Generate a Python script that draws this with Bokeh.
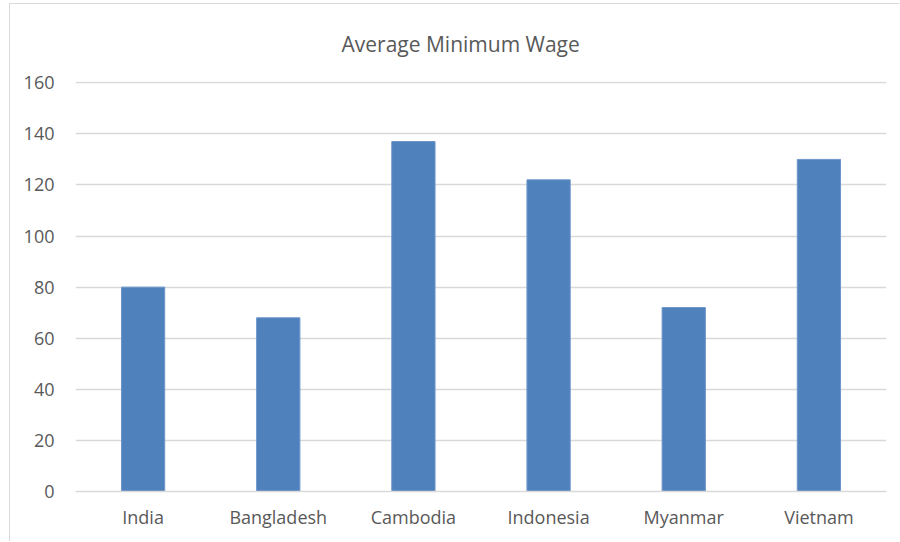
from bokeh.plotting import figure
from bokeh.models import Range1d, FixedTicker
from bokeh.embed import file_html
from bokeh.resources import INLINE

countries = ["India", "Bangladesh", "Cambodia", "Indonesia", "Myanmar", "Vietnam"]
wages = [80, 68, 137, 122, 72, 130]
y_ticks = [0, 20, 40, 60, 80, 100, 120, 140, 160]

FONT = "Open Sans"
TXT = "#595959"
GRID = "#d9d9d9"

p = figure(x_range=countries, y_range=Range1d(0, 160.5), width=890, height=538,
           output_backend="svg", toolbar_location=None,
           min_border_left=65, min_border_right=14, min_border_top=77, min_border_bottom=51)

p.vbar(x=countries, top=wages, width=0.32, fill_color="#4f81bd", line_color="#6c96c9", line_width=1)

p.title.text = "Average Minimum Wage"
p.title.align = "left"
p.title.offset = 266
p.title.vertical_align = "top"
p.title.text_font = FONT
p.title.text_font_size = "21px"
p.title.text_font_style = "normal"
p.title.text_color = TXT
p.title.standoff = 43

p.outline_line_color = None
p.xgrid.grid_line_color = None
p.ygrid.grid_line_color = GRID
p.ygrid.grid_line_width = 1.3
p.yaxis.ticker = FixedTicker(ticks=y_ticks)

p.yaxis.axis_line_color = None
p.yaxis.major_tick_line_color = None
p.yaxis.minor_tick_line_color = None
p.yaxis.major_label_standoff = 15
p.yaxis.major_label_text_font = FONT
p.yaxis.major_label_text_font_size = "18px"
p.yaxis.major_label_text_color = TXT

p.xaxis.axis_line_color = GRID
p.xaxis.axis_line_width = 1.3
p.xaxis.major_tick_line_color = None
p.xaxis.minor_tick_line_color = None
p.xaxis.major_label_standoff = 7
p.xaxis.major_label_text_font = FONT
p.xaxis.major_label_text_font_size = "18px"
p.xaxis.major_label_text_color = TXT

p.styles = {"margin-left": "9px", "margin-top": "3px",
            "border-left": "1px solid #d9d9d9", "border-top": "1px solid #d9d9d9"}

open("out.html", "w").write(file_html(p, INLINE))
